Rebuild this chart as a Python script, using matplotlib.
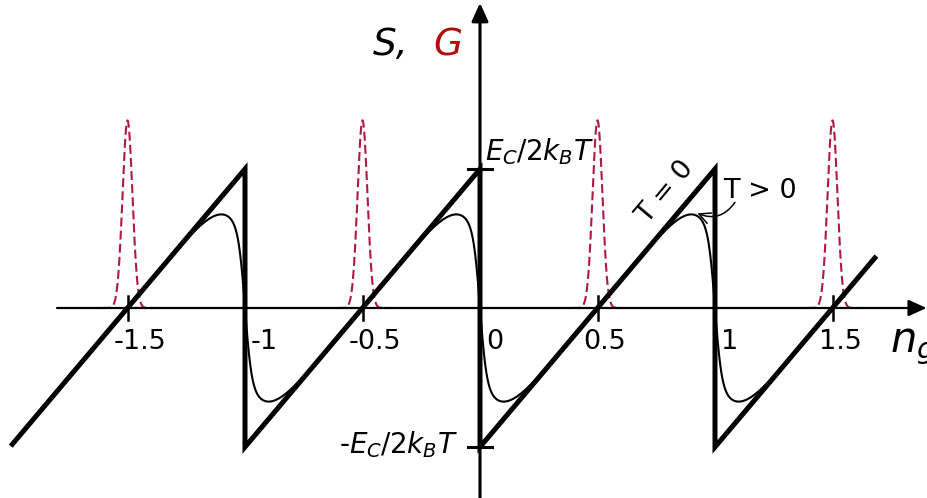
import numpy as np
import matplotlib.pyplot as plt

# thick T = 0 sawtooth vertices (gate charge n_g, S in units of E_C/2k_BT)
ng_saw = [-1.99, -1.0, -1.0, 0.0, 0.0, 1.0, 1.0, 1.68]
S_saw = [-0.98, 1.0, -1.0, 1.0, -1.0, 1.0, -1.0, 0.36]

# conductance peaks (degeneracy points)
peak_pos = [-1.5, -0.5, 0.5, 1.5]
peak_height = 1.35
peak_sigma = 0.021
peak_span = 0.11

# T > 0 rounding: fast and slow widths, weight of the fast part
w_fast = 0.028
w_slow = 0.11
c_fast = 0.55
ng_T_range = (-1.5, 1.5)

tick_vals = [-1.5, -1, -0.5, 0, 0.5, 1, 1.5]
tick_text = ['-1.5', '-1', '-0.5', '0', '0.5', '1', '1.5']

S_level = 1.0
x_ends = (-1.80, 1.90)
y_ends = (-1.37, 2.195)

red_dash = '#b0183f'
red_txt = '#b00c0c'


def S_warm(ng):
    t = ng - np.round(ng)
    g = c_fast * np.tanh(t / w_fast) + (1 - c_fast) * np.tanh(t / w_slow)
    return 2 * t - g


fig = plt.figure(figsize=(9.28, 4.98), dpi=100)
ax = fig.add_axes([0, 0, 1, 1])
ax.axis('off')
ax.set_xlim(-480 / 235, 448 / 235)
ax.set_ylim(-190 / 139, 308 / 139)

# axes with arrow heads
arr = dict(arrowstyle='-|>,head_length=0.55,head_width=0.25', color='k',
           shrinkA=0, shrinkB=0, mutation_scale=20)
ax.annotate('', xy=(x_ends[1], 0), xytext=(x_ends[0], 0),
            arrowprops=dict(arr, lw=1.6))
ax.annotate('', xy=(0, y_ends[1]), xytext=(0, y_ends[0]),
            arrowprops=dict(arr, lw=2.2))

# small ticks
for v in tick_vals:
    if v % 1 != 0:
        ax.plot([v, v], [-0.086, 0.086], color='k', lw=1.8)
for s in (S_level, -S_level):
    ax.plot([-0.051, 0.051], [s, s], color='k', lw=2.2)

# G peaks
for p in peak_pos:
    xg = np.linspace(p - peak_span, p + peak_span, 300)
    yg = peak_height * np.exp(-0.5 * ((xg - p) / peak_sigma) ** 2)
    ax.plot(xg, yg, color=red_dash, lw=1.5, dashes=(4.3, 2.0))

# T = 0 sawtooth
ax.plot(ng_saw, S_saw, color='k', lw=3.6, solid_joinstyle='miter')

# T > 0 curve
xs = np.linspace(ng_T_range[0], ng_T_range[1], 3001)
ax.plot(xs, S_warm(xs), color='k', lw=1.5)

# tick labels
for v, lab in zip(tick_vals, tick_text):
    dx = 6 if v % 1 == 0 else -14
    ax.annotate(lab, xy=(v, 0), xytext=(dx, -41), textcoords='offset pixels',
                ha='left', va='baseline', fontsize=19.5)

ax.text(0.021, 1.065, r'$E_C/2k_BT$', fontsize=20, ha='left', va='baseline')
ax.text(-0.094, -1.043, r'-$E_C/2k_BT$', fontsize=20, ha='right',
        va='baseline')

ax.text(-0.455, 1.82, 'S,', fontsize=27, style='italic', ha='left',
        va='baseline')
ax.text(-0.20, 1.82, 'G', fontsize=27, style='italic', color=red_txt,
        ha='left', va='baseline')
ax.text(1.745, -0.317, r'$n_g$', fontsize=30, ha='left', va='baseline')

ax.text(0.791, 0.835, 'T = 0', fontsize=19.5, rotation=50, ha='center',
        va='center', rotation_mode='anchor')
ax.text(1.034, 0.791, 'T > 0', fontsize=19.5, ha='left', va='baseline')
ax.annotate('', xy=(0.925, S_warm(0.925) + 0.02), xytext=(1.085, 0.76),
            arrowprops=dict(arrowstyle='->,head_length=0.4,head_width=0.2',
                            color='k', lw=1.1, shrinkA=0, shrinkB=0,
                            connectionstyle='arc3,rad=-0.4',
                            mutation_scale=20))

fig.savefig('out.png', dpi=100)
